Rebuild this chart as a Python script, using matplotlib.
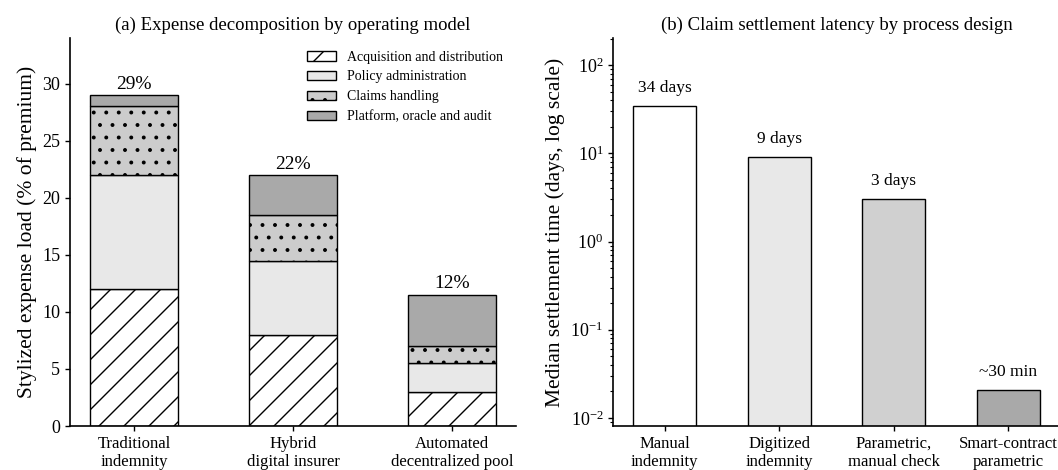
import matplotlib.pyplot as plt
import numpy as np

plt.rcParams['font.family'] = ['Liberation Serif', 'DejaVu Serif']

# (a) expense decomposition
models = ['Traditional\nindemnity', 'Hybrid\ndigital insurer', 'Automated\ndecentralized pool']
components = ['Acquisition and distribution', 'Policy administration',
              'Claims handling', 'Platform, oracle and audit']
acquisition = [12.0, 8.0, 3.0]
administration = [10.0, 6.5, 2.5]
claims = [6.0, 4.0, 1.5]
platform = [1.0, 3.5, 4.5]
total_labels = ['29%', '22%', '12%']

# (b) settlement latency
designs = ['Manual\nindemnity', 'Digitized\nindemnity', 'Parametric,\nmanual check',
           'Smart-contract\nparametric']
latency_days = [34, 9, 3, 30 / 1440]
latency_labels = ['34 days', '9 days', '3 days', '~30 min']

# rendered at a lower dpi so the hatch spacing matches; sizes scaled by k
dpi = 75
k = 100 / dpi
plt.rcParams['hatch.linewidth'] = 1.0 * k
plt.rcParams['xtick.major.size'] = 3.5 * k
plt.rcParams['ytick.major.size'] = 3.5 * k
plt.rcParams['ytick.minor.size'] = 2.0 * k
plt.rcParams['xtick.major.width'] = 1.0 * k
plt.rcParams['ytick.major.width'] = 1.0 * k
plt.rcParams['ytick.minor.width'] = 0.8 * k
plt.rcParams['xtick.major.pad'] = 3.5 * k
plt.rcParams['ytick.major.pad'] = 3.5 * k

fig = plt.figure(figsize=(1058 / dpi, 470 / dpi), dpi=dpi)
ax1 = fig.add_axes([0.0662, 0.0936, 0.4215, 0.8255])
ax2 = fig.add_axes([0.5794, 0.0936, 0.4226, 0.8255])

x = np.arange(len(models))
w = 0.55
layers = [acquisition, administration, claims, platform]
faces = ['white', '#e8e8e8', '#cccccc', '#a9a9a9']
hatches = ['/', '', '.', '']
bottom = np.zeros(len(models))
for vals, name, fc, h in zip(layers, components, faces, hatches):
    ax1.bar(x, vals, w, bottom=bottom, color=fc, edgecolor='black',
            linewidth=1.0 * k, hatch=h, label=name)
    bottom += np.array(vals)
for xi, top, lab in zip(x, bottom, total_labels):
    ax1.text(xi, top + 0.2, lab, ha='center', va='bottom', fontsize=14 * k)

ax1.set_ylim(0, 34)
ax1.set_xticks(x)
ax1.set_xticklabels(models, fontsize=12 * k)
ax1.tick_params(axis='y', labelsize=13 * k)
ax1.set_ylabel('Stylized expense load (% of premium)', fontsize=15.5 * k,
               labelpad=4 * k)
ax1.set_title('(a) Expense decomposition by operating model', fontsize=13.5 * k,
              pad=6 * k)
ax1.legend(loc='upper right', frameon=False, fontsize=10 * k, handlelength=2.1)

xb = np.arange(len(designs))
ax2.bar(xb, latency_days, w, color=['white', '#e8e8e8', '#d0d0d0', '#a9a9a9'],
        edgecolor='black', linewidth=1.0 * k)
ax2.set_yscale('log')
ax2.set_ylim(0.0081, 203)
for xi, v, lab in zip(xb, latency_days, latency_labels):
    ax2.text(xi, v * 1.3, lab, ha='center', va='bottom', fontsize=12.5 * k)
ax2.set_xticks(xb)
ax2.set_xticklabels(designs, fontsize=12 * k)
ax2.tick_params(axis='y', labelsize=13 * k)
ax2.set_ylabel('Median settlement time (days, log scale)', fontsize=15.5 * k,
               labelpad=4 * k)
ax2.set_title('(b) Claim settlement latency by process design', fontsize=13.5 * k,
              pad=6 * k)

for ax in (ax1, ax2):
    ax.spines['top'].set_visible(False)
    ax.spines['right'].set_visible(False)
    for s in ('left', 'bottom'):
        ax.spines[s].set_linewidth(1.2 * k)

fig.savefig('out.png', dpi=dpi)
